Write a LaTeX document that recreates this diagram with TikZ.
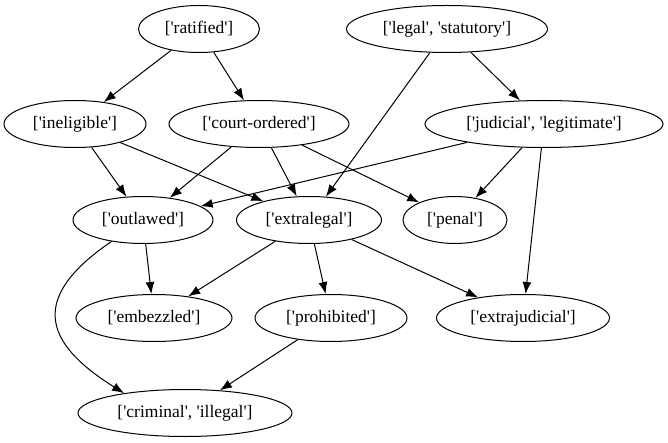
\documentclass[tikz,border=0pt]{standalone}
\usepackage{fontspec}
\setmainfont{Liberation Serif}[Ligatures=TeXOff]
\usetikzlibrary{shapes.geometric,arrows.meta}

\begin{document}
\begin{tikzpicture}[x=1pt, y=-1pt,
                every node/.style={ellipse, draw, line width=1pt, inner sep=0pt, minimum height=47pt, font=\fontsize{17.5}{20}\selectfont},
                every edge/.style={draw, line width=1pt, -{Latex[length=12pt,width=9pt]}}]
        \useasboundingbox (0,0) rectangle (668,443);

                % Define nodes
                \node[minimum width=121pt] (ratified) at (199,29) {['ratified']}; % top row
                \node[minimum width=201pt] (legal) at (447,29) {['legal', 'statutory']};
                \node[minimum width=142pt] (ineligible) at (75,124) {['ineligible']}; % second row
                \node[minimum width=180pt] (courtordered) at (259,124) {['court-ordered']};
                \node[minimum width=238pt] (judicial) at (544,124) {['judicial', 'legitimate']};
                \node[minimum width=140pt] (outlawed) at (143,220) {['outlawed']}; % third row
                \node[minimum width=145pt] (extralegal) at (309,220) {['extralegal']};
                \node[minimum width=104pt] (penal) at (455,220) {['penal']};
                \node[minimum width=156pt] (embezzled) at (154,318) {['embezzled']}; % fourth row
                \node[minimum width=152pt] (prohibited) at (331,318) {['prohibited']};
                \node[minimum width=173pt] (extrajudicial) at (523,318) {['extrajudicial']};
                \node[minimum width=214pt] (criminal) at (185,413) {['criminal', 'illegal']}; % bottom

                % Define edges
                \path (ratified) edge (ineligible);
                \path (ratified) edge (courtordered);
                \path (legal) edge (extralegal);
                \path (legal) edge (judicial);
                \path (ineligible) edge (outlawed);
                \path (ineligible) edge (extralegal);
                \path (courtordered) edge (outlawed);
                \path (courtordered) edge (extralegal);
                \path (courtordered) edge (penal);
                \path (judicial) edge (outlawed);
                \path (judicial) edge (penal);
                \path (judicial) edge (extrajudicial);
                \path (outlawed) edge (embezzled);
                \path (outlawed) edge[to path={.. controls (30,297) and (42,342) .. (criminal.162)}] (criminal);
                \path (extralegal) edge (embezzled);
                \path (extralegal) edge (prohibited);
                \path (extralegal) edge (extrajudicial);
                \path (prohibited) edge (criminal);
\end{tikzpicture}
\end{document}
